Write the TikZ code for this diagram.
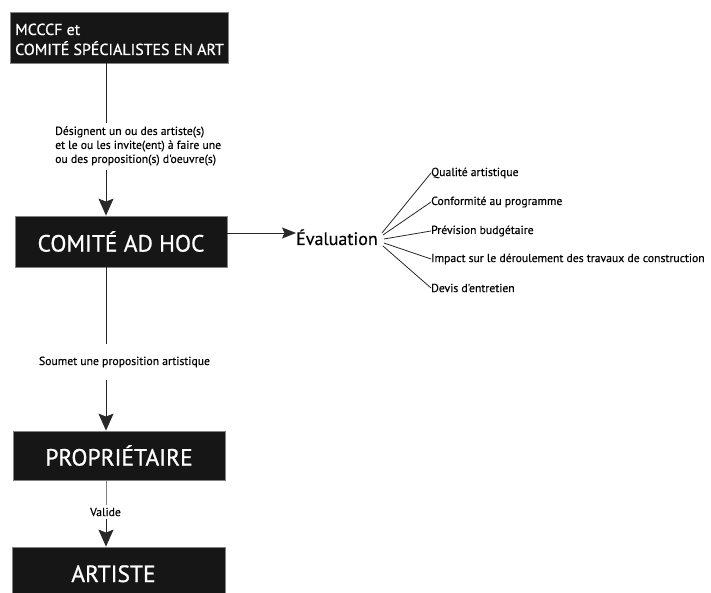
\documentclass[tikz,border=0pt]{standalone}
\usepackage{fontspec}
\setmainfont{PT Sans}
\newfontfamily\boxfont[FakeBold=0.8]{PT Sans}
\newfontfamily\lblfont[FakeBold=0.3]{PT Sans}
\usetikzlibrary{arrows.meta,calc}
\definecolor{boxfill}{RGB}{22,22,22}
\definecolor{boxline}{RGB}{130,130,130}
\definecolor{lnc}{RGB}{40,40,40}
\tikzset{
  blackbox/.style={draw=boxline, line width=0.8pt, fill=boxfill, text=white, inner sep=0pt},
  bigtxt/.style={font=\boxfont\fontsize{23.5}{24}\selectfont},
  lbl/.style={font=\lblfont\fontsize{11.7}{14}\selectfont, inner sep=0pt, text=black},
  conn/.style={draw=lnc, line width=0.9pt},
  bigarrow/.style={conn, -{Stealth[length=17pt,width=15pt,inset=3pt]}},
  midarrow/.style={conn, -{Stealth[length=14pt,width=11pt,inset=2.5pt]}},
  fan/.style={draw=lnc, line width=0.8pt},
  boxtxt/.style={text=white, anchor=base west, inner sep=0pt, font=\boxfont\fontsize{15.9}{20}\selectfont},
}
\begin{document}
\begin{tikzpicture}[x=1pt,y=-1pt]
\clip (0,0) rectangle (711,593);
\fill[white] (0,0) rectangle (711,593);
% boxes
\node[blackbox, minimum width=218pt, minimum height=51pt] (b1) at (119,37.5) {};
\node[boxtxt] (t1a) at (15,35) {MCCCF et};
\node[boxtxt] (t1b) at (15,55) {COMITÉ SPÉCIALISTES EN ART};
\node[blackbox, bigtxt, minimum width=212pt, minimum height=51pt] (b2) at (121,241.5) {COMITÉ AD HOC};
\node[blackbox, bigtxt, minimum width=212pt, minimum height=49pt] (b3) at (119,455.5) {PROPRIÉTAIRE};
\node[blackbox, minimum width=213pt, minimum height=60pt] (b4) at (118.5,577) {};
\node[text=white, bigtxt, anchor=base, inner sep=0pt] (t4) at (113.5,582) {ARTISTE};
% labels
\node[lbl, anchor=west, align=left] (l1) at (55,146) {Désignent un ou des artiste(s)\\et le ou les invite(ent) à faire une\\ou des proposition(s) d'oeuvre(s)};
\node[lbl] (l2) at (124.5,362) {Soumet une proposition artistique};
\node[lbl] (l3) at (105.5,512) {Valide};
\coordinate (cx) at (106,0);
\draw[conn] (cx |- b1.south) -- ($(cx |- l1.north)+(0,-3)$);
\draw[bigarrow] ($(cx |- l1.south)+(0,4)$) -- (cx |- b2.north);
\draw[conn] (cx |- b2.south) -- ($(cx |- l2.north)+(0,-12)$);
\draw[bigarrow] ($(cx |- l2.south)+(0,12)$) -- (cx |- b3.north);
\draw[draw=gray, line width=0.9pt] (cx |- b3.south) -- ($(cx |- l3.north)+(0,-3)$);
\draw[bigarrow] ($(cx |- l3.south)+(0,3)$) -- (cx |- b4.north);
% evaluation
\node[anchor=base west, inner sep=0pt, font=\lblfont\fontsize{18}{20}\selectfont] (ev) at (296,245) {Évaluation};
\draw[midarrow] (b2.east |- 0,233) -- (ev.west |- 0,233);
\node[lbl, anchor=west] (e1) at (431,173) {Qualité artistique};
\node[lbl, anchor=west] (e2) at (431,202) {Conformité au programme};
\node[lbl, anchor=west] (e3) at (431,231) {Prévision budgétaire};
\node[lbl, anchor=west] (e4) at (431,259) {Impact sur le déroulement des travaux de construction};
\node[lbl, anchor=west] (e5) at (431,288) {Devis d'entretien};
\draw[fan] ($(ev.base east)+(4,-12)$) -- (e1.west);
\draw[fan] ($(ev.base east)+(5,-10)$) -- (e2.west);
\draw[fan] ($(ev.base east)+(6,-6)$) -- (e3.west);
\draw[fan] ($(ev.base east)+(6,-2)$) -- (e4.west);
\draw[fan] ($(ev.base east)+(5,1)$) -- (e5.west);
\end{tikzpicture}
\end{document}
